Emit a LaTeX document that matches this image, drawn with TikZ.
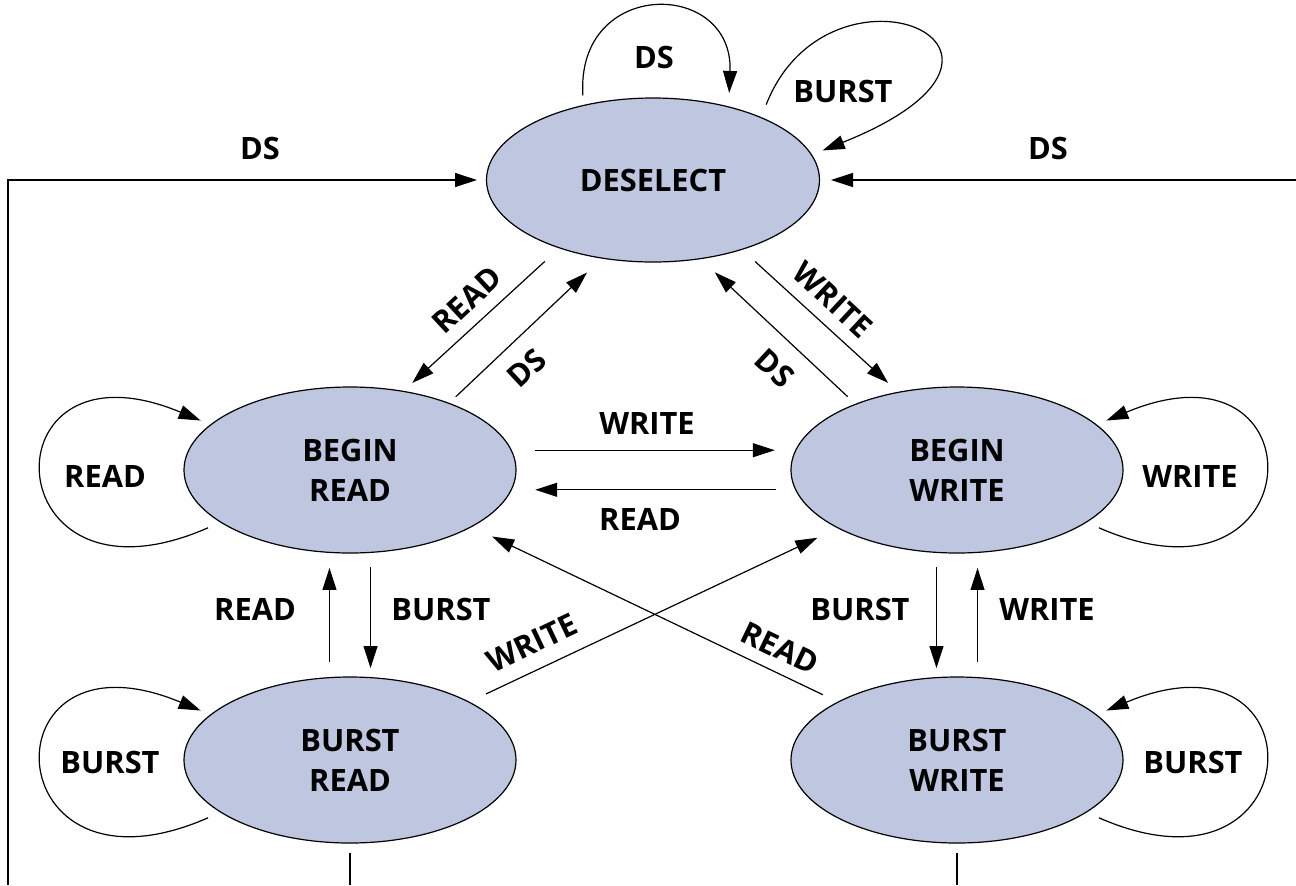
\documentclass[tikz,border=0pt]{standalone}
\usepackage{fontspec}
\setmainfont{Open Sans}
\usetikzlibrary{arrows.meta, shapes.geometric}
\definecolor{statefill}{RGB}{190,198,224}

\begin{document}
\begin{tikzpicture}[x=0.5pt, y=-0.5pt, line width=0.6pt,
    every node/.style={font=\fontsize{15.4}{20}\selectfont\bfseries},
    state/.style={ellipse, draw, fill=statefill, minimum width=166pt,
        minimum height=83pt, inner sep=0pt, outer sep=0pt, align=center},
    arr/.style={-{Triangle[length=11pt,width=7pt]}}]
    \useasboundingbox (0,0) rectangle (1296,885);

    % states
    \node[state, minimum width=166.5pt, minimum height=82pt] (dsel) at (653,180) {DESELECT};
    \node[state] (bread) at (350,470) {BEGIN\\READ};
    \node[state] (bwrite) at (957,470) {BEGIN\\WRITE};
    \node[state] (sread) at (350,760) {BURST\\READ};
    \node[state] (swrite) at (957,760) {BURST\\WRITE};

    % self loops
    \draw[arr, shorten <=5pt, shorten >=7pt] (dsel.133) .. controls +(-8,-128) and +(5,-128) .. (dsel.44);
    \draw[arr, shorten <=7pt, shorten >=6pt] (dsel.30) .. controls +(68,-173) and +(267,-107) .. (dsel.9);
    \draw[arr, shorten <=7pt, shorten >=5.5pt] (bread.202) .. controls +(-228,100) and +(-228,-95) .. (bread.162);
    \draw[arr, shorten <=7pt, shorten >=5.5pt] (bwrite.338) .. controls +(228,100) and +(228,-95) .. (bwrite.18);
    \draw[arr, shorten <=7pt, shorten >=5.5pt] (sread.202) .. controls +(-228,100) and +(-228,-95) .. (sread.162);
    \draw[arr, shorten <=7pt, shorten >=5.5pt] (swrite.338) .. controls +(228,100) and +(228,-95) .. (swrite.18);

    % transitions
    \draw[arr, shorten <=10pt, shorten >=6.25pt] (dsel.216) -- (bread.56);
    \draw[arr, shorten <=4.75pt, shorten >=10.5pt] (bread.34) -- (dsel.237);
    \draw[arr, shorten <=9pt, shorten >=7pt] (dsel.322) -- (bwrite.127);
    \draw[arr, shorten <=5.5pt, shorten >=10pt] (bwrite.147) -- (dsel.301);
    \draw[arr, shorten <=12pt, shorten >=10.5pt] (bread.7) -- (bwrite.173);
    \draw[arr, shorten <=10pt, shorten >=12pt] (bwrite.187) -- (bread.353);
    \draw[arr, shorten <=7.3pt, shorten >=4.8pt] (bread.284) -- (sread.76);
    \draw[arr, shorten <=7.8pt, shorten >=7.8pt] (sread.104) -- (bread.256);
    \draw[arr, shorten <=7.3pt, shorten >=4.8pt] (bwrite.256) -- (swrite.104);
    \draw[arr, shorten <=7.8pt, shorten >=7.8pt] (swrite.76) -- (bwrite.284);
    \draw[arr, shorten <=9.5pt, shorten >=11.5pt] (sread.26) -- (bwrite.206);
    \draw[arr, shorten <=8.5pt, shorten >=11.5pt] (swrite.154) -- (bread.335);

    % outer DS paths
    \coordinate (lcorner) at (8,180);
    \coordinate (lfoot) at (8,885);
    \coordinate (rend) at (1296,180);
    \coordinate (rfoot) at (350,885);
    \coordinate (wfoot) at (957,885);
    \draw[arr, shorten >=4.75pt] (lfoot) -- (lcorner) -- (dsel.west);
    \draw[arr, shorten >=5.75pt] (rend) -- (dsel.east);
    \draw[shorten <=5pt] (sread.south) -- (rfoot);
    \draw[shorten <=5pt] (swrite.south) -- (wfoot);

    % labels
    \node (lds1) at (654,57) {DS};
    \node (lburst0) at (843,91) {BURST};
    \node (lds2) at (260,148) {DS};
    \node (lds3) at (1048,148) {DS};
    \node[rotate=43] (lread1) at (467,300) {READ};
    \node[rotate=43] (lds4) at (527,368) {DS};
    \node[rotate=-43] (lwrite1) at (833,300) {WRITE};
    \node[rotate=-43] (lds5) at (775,368) {DS};
    \node (lwrite2) at (647,423) {WRITE};
    \node (lread2) at (640,519) {READ};
    \node (lread3) at (105,476) {READ};
    \node (lwrite3) at (1190,476) {WRITE};
    \node (lburst1) at (110,762) {BURST};
    \node (lburst2) at (1193,762) {BURST};
    \node (lread4) at (255,609) {READ};
    \node (lburst3) at (441,609) {BURST};
    \node (lburst4) at (860,609) {BURST};
    \node (lwrite4) at (1047,609) {WRITE};
    \node[rotate=25.4] (lwrite5) at (532,643) {WRITE};
    \node[rotate=-25.6] (lread5) at (780,648) {READ};
\end{tikzpicture}
\end{document}
